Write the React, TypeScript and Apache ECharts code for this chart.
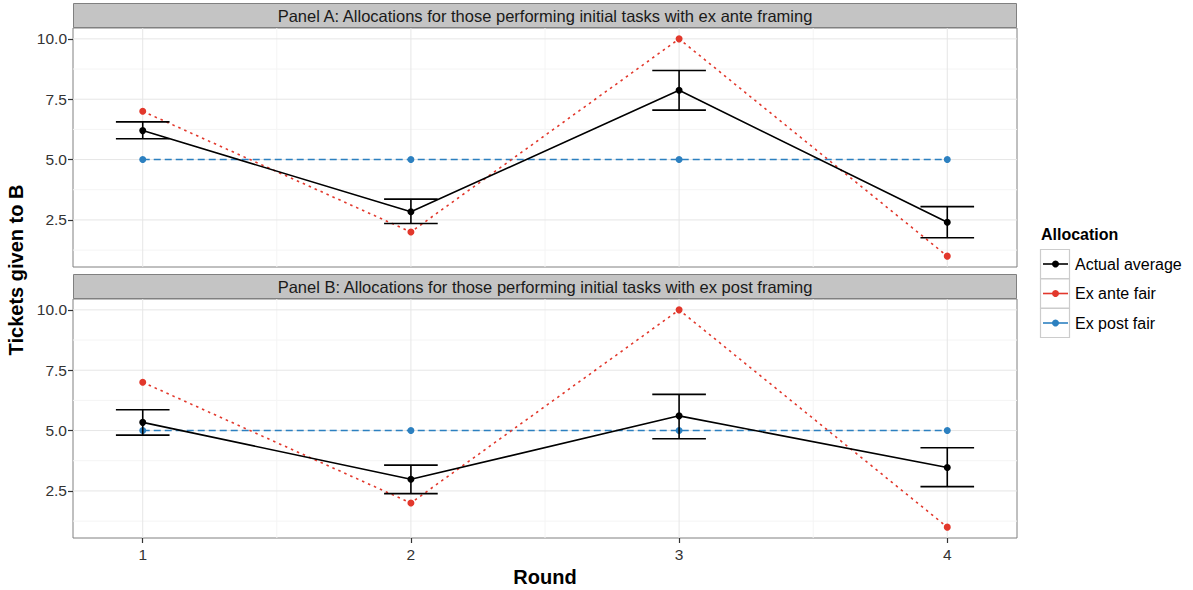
import React, { useEffect, useRef } from "react";
import * as echarts from "echarts";

const rounds = [1, 2, 3, 4];
const panelTitles = [
  "Panel A: Allocations for those performing initial tasks with ex ante framing",
  "Panel B: Allocations for those performing initial tasks with ex post framing",
];
const actualA = [6.2, 2.84, 7.87, 2.4];
const actualALo = [5.86, 2.35, 7.05, 1.76];
const actualAHi = [6.56, 3.36, 8.69, 3.05];
const actualB = [5.34, 2.98, 5.61, 3.47];
const actualBLo = [4.81, 2.39, 4.66, 2.68];
const actualBHi = [5.86, 3.57, 6.5, 4.29];
const exAnteFair = [7, 2, 10, 1];
const exPostFair = [5, 5, 5, 5];
const yTicks = [2.5, 5, 7.5, 10];
const yMinor = [1.25, 3.75, 6.25, 8.75];
const xMinor = [1.5, 2.5, 3.5];
const legendItems = ["Actual average", "Ex ante fair", "Ex post fair"];

const FONT = "'Liberation Sans', Arial, Helvetica, sans-serif";
const BLACK = "#000000";
const RED = "#e2382c";
const BLUE = "#2c80c0";
const X_MIN = 0.74;
const X_MAX = 4.26;
const Y_MIN = 0.55;
const Y_MAX = 10.45;

const GRID_LEFT = 73;
const GRID_W = 944;
const GRID_H = 239;
const GRID_TOPS = [28, 299];

export default function App() {
  const ref = useRef<HTMLDivElement>(null);

  useEffect(() => {
    if (!ref.current) return;
    const chart = echarts.init(ref.current, null, { renderer: "svg" });

    const pairs = (vals: number[]) => rounds.map((r, i) => [r, vals[i]]);

    const vGrid = (idx: number, vals: number[], color: string, w: number) => ({
      type: "custom",
      xAxisIndex: idx,
      yAxisIndex: idx,
      silent: true,
      z: 0,
      data: vals.map((v) => [v, 5]),
      renderItem: (params: any, api: any) => {
        const cs = params.coordSys;
        const x = api.coord([api.value(0), 5])[0];
        return {
          type: "line",
          shape: { x1: x, y1: cs.y, x2: x, y2: cs.y + cs.height },
          style: { stroke: color, lineWidth: w },
        };
      },
    });
    const hGrid = (idx: number, vals: number[], color: string, w: number) => ({
      type: "custom",
      xAxisIndex: idx,
      yAxisIndex: idx,
      silent: true,
      z: 0,
      data: vals.map((v) => [2, v]),
      renderItem: (params: any, api: any) => {
        const cs = params.coordSys;
        const y = api.coord([2, api.value(1)])[1];
        return {
          type: "line",
          shape: { x1: cs.x, y1: y, x2: cs.x + cs.width, y2: y },
          style: { stroke: color, lineWidth: w },
        };
      },
    });
    const errBars = (idx: number, lo: number[], hi: number[]) => ({
      type: "custom",
      xAxisIndex: idx,
      yAxisIndex: idx,
      silent: true,
      z: 4,
      data: rounds.map((r, i) => [r, lo[i], hi[i]]),
      renderItem: (params: any, api: any) => {
        const x = api.value(0);
        const pLo = api.coord([x, api.value(1)]);
        const pHi = api.coord([x, api.value(2)]);
        const half = api.size([0.1, 0])[0];
        const st = { stroke: BLACK, lineWidth: 1.6 };
        return {
          type: "group",
          children: [
            { type: "line", shape: { x1: pLo[0], y1: pLo[1], x2: pHi[0], y2: pHi[1] }, style: st },
            { type: "line", shape: { x1: pLo[0] - half, y1: pLo[1], x2: pLo[0] + half, y2: pLo[1] }, style: st },
            { type: "line", shape: { x1: pHi[0] - half, y1: pHi[1], x2: pHi[0] + half, y2: pHi[1] }, style: st },
          ],
        };
      },
    });
    const lineSeries = (idx: number, name: string, vals: number[], color: string, dash: any, z: number) => ({
      type: "line",
      name,
      xAxisIndex: idx,
      yAxisIndex: idx,
      data: pairs(vals),
      symbol: "circle",
      symbolSize: 7,
      z,
      itemStyle: { color },
      lineStyle: { color, width: 1.6, type: dash },
      silent: true,
    });

    const series: any[] = [];
    [0, 1].forEach((idx) => {
      series.push(vGrid(idx, xMinor, "#f4f4f4", 1));
      series.push(hGrid(idx, yMinor, "#f4f4f4", 1));
      series.push(vGrid(idx, rounds, "#e6e6e6", 1));
      series.push(hGrid(idx, yTicks, "#e6e6e6", 1));
      series.push(lineSeries(idx, "Ex post fair", exPostFair, BLUE, [7, 4], 2));
      series.push(lineSeries(idx, "Ex ante fair", exAnteFair, RED, [2.5, 4], 3));
      series.push(errBars(idx, idx === 0 ? actualALo : actualBLo, idx === 0 ? actualAHi : actualBHi));
      series.push(lineSeries(idx, "Actual average", idx === 0 ? actualA : actualB, BLACK, "solid", 5));
    });

    const graphics: any[] = [];
    GRID_TOPS.forEach((top, i) => {
      graphics.push({
        type: "rect",
        shape: { x: GRID_LEFT + 0.5, y: top - 24.5, width: GRID_W - 1, height: 24 },
        style: { fill: "#c4c4c4", stroke: "#808080", lineWidth: 1 },
      });
      graphics.push({
        type: "text",
        x: GRID_LEFT + GRID_W / 2,
        y: top - 12,
        style: {
          text: panelTitles[i],
          font: `16.5px ${FONT}`,
          fill: "#1a1a1a",
          textAlign: "center",
          textVerticalAlign: "middle",
        },
      });
    });
    graphics.push({
      type: "text",
      x: 545,
      y: 577,
      style: { text: "Round", font: `bold 20px ${FONT}`, fill: "#000", textAlign: "center", textVerticalAlign: "middle" },
    });
    graphics.push({
      type: "text",
      x: 16,
      y: 270,
      rotation: Math.PI / 2,
      style: {
        text: "Tickets given to B",
        font: `bold 20px ${FONT}`,
        fill: "#000",
        textAlign: "center",
        textVerticalAlign: "middle",
      },
    });
    // legend
    graphics.push({
      type: "text",
      x: 1041,
      y: 234,
      style: { text: "Allocation", font: `bold 16px ${FONT}`, fill: "#000", textAlign: "left", textVerticalAlign: "middle" },
    });
    const legendColors = [BLACK, RED, BLUE];
    legendItems.forEach((name, i) => {
      const cy = 264 + i * 29.5;
      graphics.push({
        type: "rect",
        shape: { x: 1040.5, y: cy - 14.5, width: 29, height: 29 },
        style: { fill: "#ffffff", stroke: "#cccccc", lineWidth: 1.2 },
      });
      graphics.push({
        type: "line",
        shape: { x1: 1043, y1: cy, x2: 1068, y2: cy },
        style: { stroke: legendColors[i], lineWidth: 1.6 },
      });
      graphics.push({
        type: "circle",
        shape: { cx: 1055.5, cy, r: 3.5 },
        style: { fill: legendColors[i] },
      });
      graphics.push({
        type: "text",
        x: 1075,
        y: cy,
        style: { text: name, font: `16px ${FONT}`, fill: "#000", textAlign: "left", textVerticalAlign: "middle" },
      });
    });

    const option: any = {
      animation: false,
      textStyle: { fontFamily: FONT },
      grid: GRID_TOPS.map((top) => ({
        left: GRID_LEFT,
        top,
        width: GRID_W,
        height: GRID_H,
        show: true,
        backgroundColor: "#ffffff",
        borderColor: "#808080",
        borderWidth: 1,
        containLabel: false,
      })),
      xAxis: [0, 1].map((idx) => ({
        type: "value",
        gridIndex: idx,
        min: X_MIN,
        max: X_MAX,
        axisLine: { show: false },
        splitLine: { show: false },
        axisTick: {
          show: idx === 1,
          customValues: rounds,
          length: 5,
          lineStyle: { color: "#333", width: 1.2 },
        },
        axisLabel: {
          show: idx === 1,
          customValues: rounds,
          fontSize: 15.5,
          color: "#333",
          margin: 8,
          fontFamily: FONT,
        },
      })),
      yAxis: [0, 1].map((idx) => ({
        type: "value",
        gridIndex: idx,
        min: Y_MIN,
        max: Y_MAX,
        axisLine: { show: false },
        splitLine: { show: false },
        axisTick: {
          show: true,
          customValues: yTicks,
          length: 5,
          lineStyle: { color: "#333", width: 1.2 },
        },
        axisLabel: {
          show: true,
          customValues: yTicks,
          fontSize: 15.5,
          color: "#333",
          margin: 6,
          fontFamily: FONT,
          formatter: (v: number) => v.toFixed(1),
        },
      })),
      series,
      graphic: graphics,
    };
    chart.setOption(option);
    return () => chart.dispose();
  }, []);

  return (
    <div
      ref={ref}
      style={{ position: "absolute", left: 0, top: 0, width: 1193, height: 590, background: "#fff" }}
    />
  );
}
